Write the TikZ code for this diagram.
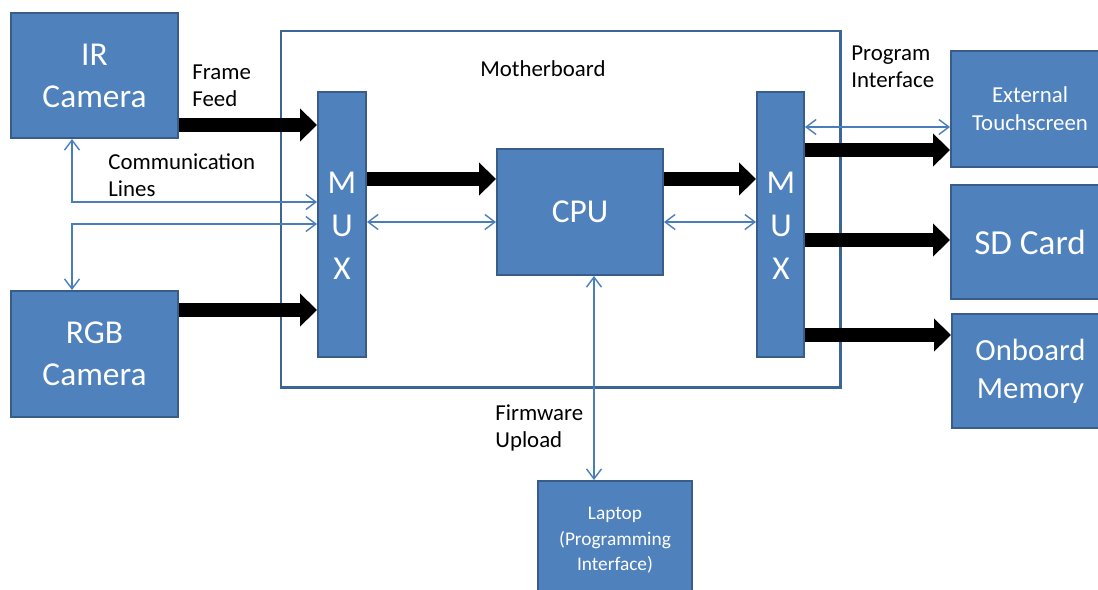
\documentclass[tikz,border=0pt]{standalone}
\usepackage{fontspec}
\setmainfont{Carlito}
\usetikzlibrary{fit,arrows.meta}

\definecolor{boxfill}{HTML}{4F81BD}
\definecolor{boxline}{HTML}{385D8A}
\definecolor{wire}{HTML}{4A7EBB}

\tikzset{
  block/.style={draw=boxline, line width=1.1pt, fill=boxfill, inner sep=0pt},
  board/.style={draw=boxline!80!wire, line width=1.7pt, inner sep=0pt},
  intext/.style={text=white, align=center, inner sep=0pt},
  bigtext/.style={intext, font=\fontsize{19}{24}\selectfont},
  sdtext/.style={intext, font=\fontsize{20}{24}\selectfont},
  memtext/.style={intext, font=\fontsize{17.5}{21.6}\selectfont},
  muxtext/.style={intext, font=\fontsize{19}{24.5}\selectfont},
  midtext/.style={intext, font=\fontsize{13}{16}\selectfont},
  smalltext/.style={intext, font=\fontsize{11}{14.5}\selectfont},
  caption/.style={font=\fontsize{13}{15.6}\selectfont, align=left, anchor=west, inner sep=0pt},
  feed/.style={line width=0.28cm, -{Triangle[length=0.34cm,width=0.64cm]}},
  comm/.style={draw=wire, line width=0.8pt,
    {Straight Barb[length=0.2cm,width=0.3cm]}-{Straight Barb[length=0.2cm,width=0.3cm]}},
}

\begin{document}
\begin{tikzpicture}[x=0.02cm, y=-0.02cm]
\useasboundingbox (0,0) rectangle (1098,589);

% motherboard outline
\node[board, fit={(281,31) (840,387)}] (mb) {};
\node[font=\fontsize{13}{15.6}\selectfont] (mbl) at (543,69) {Motherboard};

% cameras
\node[block, fit={(11,13) (178,138)}, label={[bigtext]center:IR\\Camera}] (ir) {};
\node[block, fit={(11,291) (178,417)}, label={[bigtext]center:RGB\\Camera}] (rgb) {};

% multiplexers and processor
\node[block, fit={(318,92) (366,357)}] (lmux) {};
\node[muxtext] (lmuxt) at (342,226) {M\\U\\X};
\node[block, fit={(757,92) (804,357)}] (rmux) {};
\node[muxtext] (rmuxt) at (781,226) {M\\U\\X};
\node[block, fit={(497,149) (663,275)}, label={[bigtext]center:CPU}] (cpu) {};

% outputs
\node[block, fit={(951,51) (1109,167)}, label={[midtext]center:External\\Touchscreen}] (touch) {};
\node[block, fit={(951,185) (1109,299)}, label={[sdtext]center:SD Card}] (sd) {};
\node[block, fit={(952,314) (1109,428)}, label={[memtext]center:Onboard\\Memory}] (onboard) {};

% programming host
\node[block, fit={(538,481) (692,600)}, label={[smalltext]center:Laptop\\(Programming\\Interface)}] (laptop) {};

% data paths
\draw[feed] (ir.east |- 0,125) -- (lmux.west |- 0,125);
\draw[feed] (rgb.east |- 0,310) -- (lmux.west |- 0,310);
\draw[feed] (lmux.east |- 0,179) -- (cpu.west |- 0,179);
\draw[feed] (cpu.east |- 0,179) -- (rmux.west |- 0,179);
\draw[feed] (rmux.east |- 0,150) -- (touch.west |- 0,150);
\draw[feed] (rmux.east |- 0,240) -- (sd.west |- 0,240);
\draw[feed] (rmux.east |- 0,335) -- (onboard.west |- 0,335);

% communication lines
\draw[comm] (ir.south -| 72,0) |- (lmux.west |- 0,202);
\draw[comm] (rgb.north -| 72,0) |- (lmux.west |- 0,224);
\draw[comm] (lmux.east |- 0,222) -- (cpu.west |- 0,222);
\draw[comm] (cpu.east |- 0,222) -- (rmux.west |- 0,222);
\draw[comm] (rmux.east |- 0,127) -- (touch.west |- 0,127);
\draw[comm] (cpu.south -| 594,0) -- (laptop.north -| 594,0);

% labels
\node[caption] (ff) at (192,86) {Frame\\Feed};
\node[caption] (cl) at (108,175) {Communication\\Lines};
\node[caption] (pi) at (851,67) {Program\\Interface};
\node[caption] (fu) at (495,428) {Firmware\\Upload};
\end{tikzpicture}
\end{document}
